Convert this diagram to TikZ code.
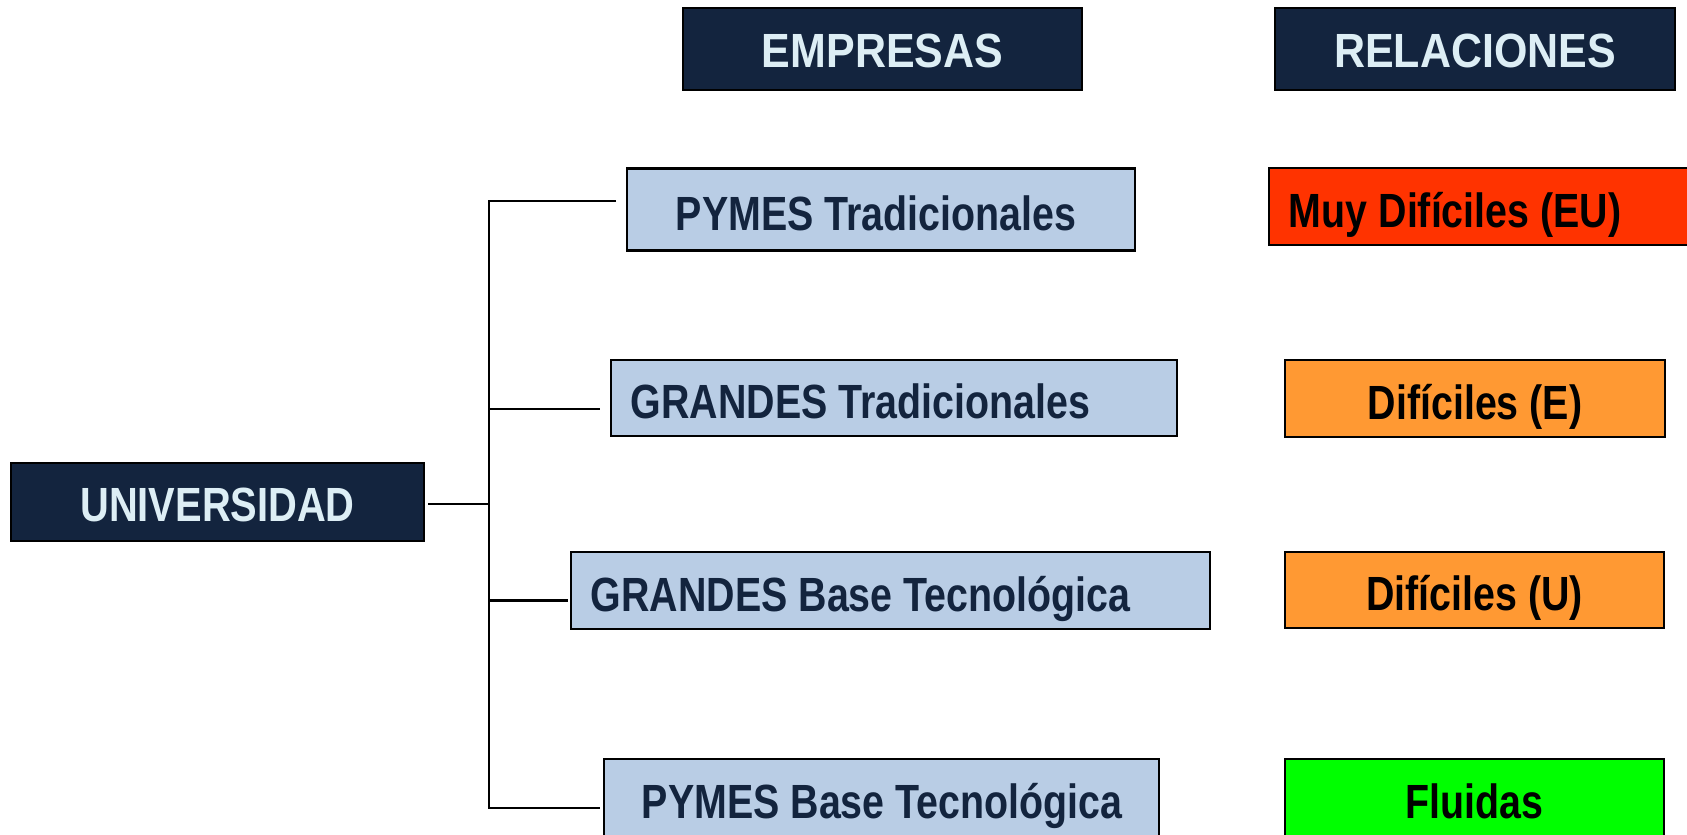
\documentclass[tikz,border=0pt]{standalone}
\usepackage{fontspec}
\newfontfamily\hdrfont{Liberation Sans}[FakeStretch=0.895]
\newfontfamily\unifont{Liberation Sans}[FakeStretch=0.83]
\newfontfamily\bodyfont{Liberation Sans}[FakeStretch=0.82]
\definecolor{navy}{HTML}{13243E}
\definecolor{hdrtxt}{HTML}{DDEEF5}
\definecolor{lightbox}{HTML}{B9CDE5}
\definecolor{redbox}{HTML}{FF3300}
\definecolor{orangebox}{HTML}{FF9933}
\definecolor{greenbox}{HTML}{00FF00}
\begin{document}
\begin{tikzpicture}[x=1pt,y=-1pt,
  boxbase/.style={draw=black, line width=2.5pt, inner sep=0pt},
  hdr/.style={boxbase, fill=navy, text=hdrtxt, text height=37.4pt, text depth=0pt,
    font=\hdrfont\bfseries\fontsize{48}{58}\selectfont},
  uni/.style={boxbase, fill=navy, text=hdrtxt, text height=39.4pt, text depth=0pt,
    font=\unifont\bfseries\fontsize{48}{58}\selectfont},
  empbox/.style={boxbase, fill=lightbox},
  emptxt/.style={anchor=west, inner sep=0pt, text=navy, text height=41.6pt, text depth=0pt,
    font=\bodyfont\bfseries\fontsize{48}{58}\selectfont},
  relbox/.style={boxbase, text=black, text height=41.6pt, text depth=0pt,
    font=\bodyfont\bfseries\fontsize{48}{58}\selectfont},
  conn/.style={line width=2.5pt, black}
]
\useasboundingbox (0,0) rectangle (1687,835);
\fill[white] (0,0) rectangle (1687,835);
\clip (0,0) rectangle (1687,835);

% headers
\node[hdr, minimum width=399pt, minimum height=82pt] (emp) at (882.5,49) {EMPRESAS};
\node[hdr, minimum width=400pt, minimum height=82pt] (rel) at (1475,49) {RELACIONES};

% university
\node[uni, minimum width=413pt, minimum height=78pt] (u) at (217.5,502) {UNIVERSIDAD};

% company boxes
\node[empbox, minimum width=508pt, minimum height=82pt] (pt) at (881,209.5) {};
\node[emptxt] (ptt) at ([xshift=50pt]pt.west) {PYMES Tradicionales};
\node[empbox, minimum width=566pt, minimum height=76pt] (gt) at (894,398) {};
\node[emptxt] (gtt) at ([xshift=21pt]gt.west) {GRANDES Tradicionales};
\node[empbox, minimum width=639pt, minimum height=77pt] (gb) at (890.5,590.5) {};
\node[emptxt] (gbt) at ([xshift=21pt]gb.west) {GRANDES Base Tecnológica};
\node[empbox, minimum width=555pt, minimum height=77pt] (pb) at (881.5,797.5) {};
\node[emptxt] (pbt) at ([xshift=39pt]pb.west) {PYMES Base Tecnológica};

% relation boxes
\node[relbox, fill=redbox, minimum width=451pt, minimum height=77pt] (r1) at (1494.5,206.5) {};
\node[emptxt, text=black] (r1t) at ([xshift=21pt]r1.west) {Muy Difíciles (EU)};
\node[relbox, fill=orangebox, minimum width=380pt, minimum height=77pt] (r2) at (1475,398.5) {Difíciles (E)};
\node[relbox, fill=orangebox, minimum width=379pt, minimum height=76pt] (r3) at (1474.5,590) {Difíciles (U)};
\node[relbox, fill=greenbox, minimum width=379pt, minimum height=77pt] (r4) at (1474.5,797.5) {Fluidas};

% connectors
\coordinate (jn) at (489,504);
\coordinate (b1) at (489,201);
\coordinate (b2) at (489,409);
\coordinate (b3) at (489,600.5);
\coordinate (b4) at (489,808);
\coordinate (e1) at (616,201);
\coordinate (e2) at (600,409);
\coordinate (e3) at (568,600.5);
\coordinate (e4) at (599.5,808);
\draw[conn] ([xshift=3pt]u.east |- jn) -- (jn);
\draw[conn] (e1) -- (b1) -- (b4) -- (e4);
\draw[conn] (b2) -- (e2);
\draw[conn] (b3) -- (e3);
\end{tikzpicture}
\end{document}
